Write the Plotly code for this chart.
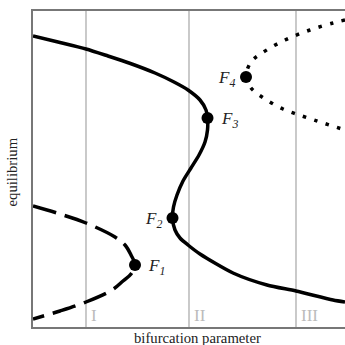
import plotly.graph_objects as go

# Stable branch (solid S-curve)
stable_x = [0, 25, 53, 75, 96, 122, 141, 155, 167, 173, 174.5, 174.5, 172, 166, 158, 150, 144, 140.5, 139.5,
            142, 147, 155, 167, 200, 234, 263, 300, 312]
stable_y = [291, 285, 278, 271, 264, 254, 245, 237, 227, 217, 209, 197, 185, 172, 159, 146, 132, 120, 109,
            97, 89, 82, 73, 54, 42, 36, 27, 25]

# Dashed branch (fold F1)
dashed_x = [0, 27, 53, 82, 92, 98, 102, 98, 90, 79, 53, 27, 0]
dashed_y = [121, 113, 104, 90, 82, 72, 62, 53, 46, 37, 25, 16, 8]

# Dotted branch (fold F4)
dotted_x = [312, 300, 277, 252, 229, 218, 213, 218, 229, 250, 275, 312]
dotted_y = [307, 304, 297, 287, 274, 265, 250, 239, 230, 218, 209, 197]

# Fold points
fold_x = [102, 139.5, 174.5, 213]
fold_y = [62, 109, 209, 250]
fold_labels = ["1", "2", "3", "4"]

# Region boundaries and labels
region_x = [53, 156, 263]
region_labels = ["I", "II", "III"]

fig = go.Figure()

for rx in region_x:
    fig.add_shape(type="line", x0=rx, x1=rx, y0=0, y1=1, xref="x", yref="paper",
                  line=dict(color="#c4c4c4", width=1.8), layer="below")

fig.add_trace(go.Scatter(x=stable_x, y=stable_y, mode="lines",
                         line=dict(color="black", width=3.5, shape="spline", smoothing=0.7)))
fig.add_trace(go.Scatter(x=dashed_x, y=dashed_y, mode="lines",
                         line=dict(color="black", width=3.5, shape="spline", smoothing=1.0, dash="24px,9px")))
fig.add_trace(go.Scatter(x=dotted_x, y=dotted_y, mode="lines",
                         line=dict(color="black", width=3.5, shape="spline", smoothing=1.0, dash="3.5px,8.5px")))
fig.add_trace(go.Scatter(x=fold_x, y=fold_y, mode="markers", marker=dict(color="black", size=12)))

label_pos = [("left", 11), ("right", -9), ("left", 11), ("right", -9)]
for fx, fy, lab, (anc, sh) in zip(fold_x, fold_y, fold_labels, label_pos):
    fig.add_annotation(x=fx, y=fy, text="<i>F<sub>" + lab + "</sub></i>", showarrow=False,
                       xanchor=anc, yanchor="middle", xshift=sh, yshift=-2,
                       font=dict(family="Liberation Serif", size=17, color="#222"))

for rx, lab in zip(region_x, region_labels):
    fig.add_annotation(x=rx, y=0, yref="y", text=lab, showarrow=False, xanchor="left", yanchor="bottom",
                       xshift=3, yshift=0, font=dict(family="Liberation Serif", size=17, color="#bbbbbb"))

fig.add_annotation(x=(197.5 - 33) / 312, y=0, xref="paper", yref="paper", text="bifurcation parameter",
                   showarrow=False, xanchor="center", yanchor="top", yshift=-1,
                   font=dict(family="Liberation Serif", size=14.7, color="#222"))
fig.add_annotation(x=0, y=0.489, xref="paper", yref="paper", text="equilibrium", textangle=-90,
                   showarrow=False, xanchor="right", yanchor="middle", xshift=-11,
                   font=dict(family="Liberation Serif", size=14.7, color="#222"))

fig.update_layout(
    width=345, height=345,
    margin=dict(l=33, r=0, t=11, b=18),
    paper_bgcolor="white", plot_bgcolor="white",
    showlegend=False,
    xaxis=dict(range=[0, 312], showgrid=False, zeroline=False, showticklabels=False, ticks="",
               showline=True, linecolor="#777", linewidth=1.5, mirror=True),
    yaxis=dict(range=[0, 316], showgrid=False, zeroline=False, showticklabels=False, ticks="",
               showline=True, linecolor="#777", linewidth=1.5, mirror=False),
)

fig.write_html("out.html", config={"displayModeBar": False},
               post_script="document.body.style.margin='0';document.body.style.overflow='hidden';")
